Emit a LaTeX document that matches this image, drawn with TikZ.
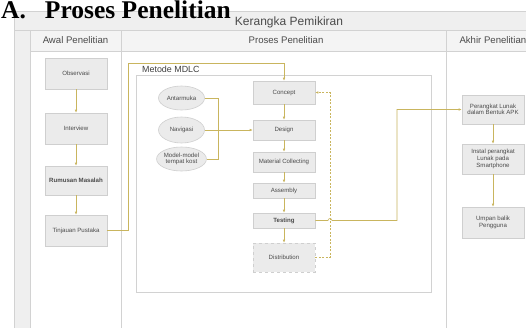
\documentclass[tikz,border=0pt]{standalone}
\usepackage{fontspec}
\setmainfont{Liberation Sans}
\newfontfamily\titlefont{Liberation Serif}
\usetikzlibrary{shapes.geometric,arrows.meta}
\definecolor{lineg}{HTML}{D2D2D2}
\definecolor{bandg}{HTML}{EFEFEF}
\definecolor{boxf}{HTML}{EBEBEB}
\definecolor{boxd}{HTML}{CFCFCF}
\definecolor{arrc}{HTML}{C9B55E}
\definecolor{txt}{HTML}{4A4A4A}
\newcommand{\boxfont}{\fontsize{6.1}{6.6}\selectfont}
\tikzset{
  grid/.style={draw=lineg, line width=0.8pt},
  hdr/.style={font=\fontsize{9.6}{10}\selectfont, text=txt},
  procbox/.style={draw=boxd, fill=boxf, line width=0.6pt, minimum width=62pt, inner sep=1pt, align=center, font=\boxfont, text=txt},
  ellbox/.style={ellipse, draw=boxd, fill=boxf, line width=0.6pt, minimum width=46pt, minimum height=24pt, inner sep=0pt, align=center, font=\boxfont, text=txt},
  arr/.style={draw=arrc, line width=0.6pt, -{Latex[length=3pt,width=2.6pt]}},
  conn/.style={draw=arrc, line width=0.6pt},
}
\begin{document}
\begin{tikzpicture}[x=1pt,y=-1pt]
\useasboundingbox (0,0) rectangle (526,327);
\clip (0,0) rectangle (526,327);
% frame
\fill[white] (0,0) rectangle (526,327);
\fill[bandg] (14,11) rectangle (540,30);
\fill[bandg] (14,30) rectangle (30,340);
\fill[bandg!70!white] (30,30) rectangle (540,51);
\draw[grid] (14,11) rectangle (540,340);
\draw[grid] (14,30) -- (540,30);
\draw[grid] (30,51) -- (540,51);
\draw[grid] (30,30) -- (30,340);
\draw[grid] (121,30) -- (121,340);
\draw[grid] (446,30) -- (446,340);
\node[font=\fontsize{12}{13}\selectfont, text=txt] (kp) at (289,22.4) {Kerangka Pemikiran};
\node[hdr] (h1) at (75.5,40.5) {Awal Penelitian};
\node[hdr] (h2) at (286,40.5) {Proses Penelitian};
\node[hdr, anchor=west] (h3) at (456,40.5) {Akhir Penelitian};
% title
\node[font=\titlefont\bfseries\fontsize{25.5}{27}\selectfont, anchor=base west, inner sep=0pt] (title) at (1,18) {A.\hspace{19pt}Proses Penelitian};
% MDLC container
\draw[grid] (136,75) rectangle (431,292);
\node[font=\fontsize{8.9}{9}\selectfont, text=black!75, anchor=west, inner sep=0pt] (mdlc) at (142,69) {Metode MDLC};
% left column
\node[procbox, minimum height=31pt] (obs) at (76,73.5) {Observasi};
\node[procbox, minimum height=31pt] (int) at (76,128.5) {Interview};
\node[procbox, minimum height=29pt, font=\bfseries\boxfont] (rum) at (76,180.5) {Rumusan Masalah};
\node[procbox, minimum height=31pt] (tin) at (76,230.5) {Tinjauan Pustaka};
\draw[arr] (obs) -- (int);
\draw[arr] (int) -- (rum);
\draw[arr] (rum) -- (tin);
% ellipses
\node[ellbox] (ant) at (181.5,98) {Antarmuka};
\node[ellbox, minimum height=26pt] (nav) at (181.5,130) {Navigasi};
\node[ellbox] (mod) at (181.5,159) {Model-model\\tempat kost};
\coordinate (jn) at (218,130);
\draw[conn] (ant.east) -| (jn);
\draw[conn] (mod.east) -| (jn);
% MDLC steps
\node[procbox, minimum height=23pt] (con) at (284,92.5) {Concept};
\node[procbox, minimum height=20pt] (des) at (284,130) {Design};
\node[procbox, minimum height=20pt] (mat) at (284,162) {Material Collecting};
\node[procbox, minimum height=15pt] (ass) at (284,190.5) {Assembly};
\node[procbox, minimum height=15pt, font=\bfseries\boxfont] (tes) at (284,220.5) {Testing};
\node[procbox, minimum height=29pt, dashed] (dis) at (284,257.5) {Distribution};
\draw[arr] (nav.east) -- (des.west);
\draw[arr] (con) -- (des);
\draw[arr] (des) -- (mat);
\draw[arr] (mat) -- (ass);
\draw[arr] (ass) -- (tes);
\draw[arr] (tes) -- (dis);
\coordinate (d1) at (330,92.5);
\draw[arr, dashed, dash pattern=on 2pt off 1.5pt] (dis.east) -| (d1) -- (con.east);
% Tinjauan -> Concept
\coordinate (c1) at (128,63);
\draw[arr] (tin.east) -| (c1) -| (con.north);
% right column
\node[procbox, minimum height=29pt] (apk) at (493,109.5) {Perangkat Lunak\\dalam Bentuk APK};
\node[procbox, minimum height=30pt] (ins) at (493,159) {Instal perangkat\\Lunak pada\\Smartphone};
\node[procbox, minimum height=31pt] (ump) at (493,222.5) {Umpan balik\\Pengguna};
\draw[arr] (apk) -- (ins);
\draw[arr] (ins) -- (ump);
% Testing -> APK with hop
\coordinate (t1) at (397,220.5);
\draw[arr] (tes.east) -- (328,220.5) arc (180:360:2) -- (t1) |- (apk.west);
\end{tikzpicture}
\end{document}
